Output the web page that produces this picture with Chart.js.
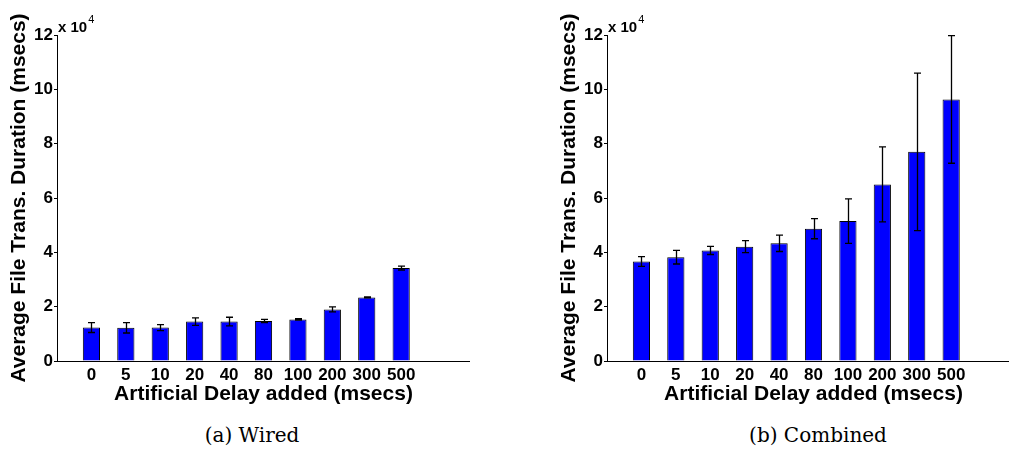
<!DOCTYPE html>
<html>
<head>
<meta charset="utf-8">
<script src="https://cdn.jsdelivr.net/npm/chart.js@4.4.1/dist/chart.umd.min.js"></script>
<style>
  body { margin: 0; width: 1009px; height: 449px; overflow: hidden; background: #fff; position: relative; }
  canvas { position: absolute; top: 0; }
  #wired { left: 0; }
  #combined { left: 550px; }
  .caption { position: absolute; top: 423px; font-family: "DejaVu Serif", serif; font-size: 20px; color: #000; transform: translateX(-50%); white-space: nowrap; }
</style>
</head>
<body>
<canvas id="wired" width="470" height="410"></canvas>
<canvas id="combined" width="470" height="410"></canvas>
<div class="caption" style="left:252px">(a) Wired</div>
<div class="caption" style="left:818px">(b) Combined</div>
<script>
// delay values on the x axis (msecs)
const delays = ['0', '5', '10', '20', '40', '80', '100', '200', '300', '500'];
// average file transfer duration (msecs) and error half-widths
const wiredMean = [12300, 12200, 12300, 14500, 14500, 14700, 15300, 19000, 23400, 34200];
const wiredErr = [1800, 1900, 1100, 1400, 1600, 600, 250, 900, 200, 700];
const combinedMean = [36600, 38200, 40700, 42100, 43300, 48700, 51500, 65000, 77000, 96300];
const combinedErr = [1800, 2500, 1500, 2200, 3000, 3700, 8200, 13800, 29000, 23500];

Chart.defaults.font.family = "'Liberation Sans', Arial, sans-serif";
Chart.defaults.font.weight = 'bold';
Chart.defaults.color = '#000';

const errorBars = {
    id: 'errorBars',
    afterDraw(chart, args, opts) {
        const {ctx, scales: {x, y}} = chart;
        ctx.save();
        ctx.strokeStyle = '#000';
        ctx.lineWidth = 1.3;
        opts.mean.forEach((m, i) => {
            const px = Math.round(x.getPixelForValue(i + 1)) + 0.5;
            const top = y.getPixelForValue(m + opts.err[i]);
            const bot = y.getPixelForValue(m - opts.err[i]);
            ctx.beginPath();
            ctx.moveTo(px, top); ctx.lineTo(px, bot);
            ctx.moveTo(px - 3.5, top); ctx.lineTo(px + 3.5, top);
            ctx.moveTo(px - 3.5, bot); ctx.lineTo(px + 3.5, bot);
            ctx.stroke();
        });
        ctx.restore();
    }
};

// the "x 10^4" exponent above the y axis
const exponent = {
    id: 'exponent',
    afterDraw(chart) {
        const {ctx, chartArea} = chart;
        ctx.save();
        ctx.fillStyle = '#000';
        ctx.textBaseline = 'alphabetic';
        ctx.font = "bold 15px 'Liberation Sans', Arial";
        const x0 = chartArea.left + 1;
        ctx.fillText('x 10', x0, chartArea.top - 3);
        const w = ctx.measureText('x 10').width;
        ctx.font = "11px 'Liberation Sans', Arial";
        ctx.fillText('4', x0 + w + 1, chartArea.top - 12);
        ctx.restore();
    }
};

function makeChart(id, mean, err) {
    return new Chart(document.getElementById(id), {
        type: 'bar',
        data: {
            datasets: [{
                data: mean.map((v, i) => ({x: i + 1, y: v})),
                backgroundColor: '#0000ff',
                borderColor: '#000',
                borderWidth: 1,
                barPercentage: 0.5,
                categoryPercentage: 1
            }]
        },
        options: {
            responsive: false,
            animation: false,
            layout: { padding: { top: 35, right: 0, left: 0, bottom: 0 } },
            plugins: {
                legend: { display: false },
                tooltip: { enabled: false },
                errorBars: { mean: mean, err: err }
            },
            scales: {
                x: {
                    type: 'linear',
                    min: 0,
                    max: 12,
                    offset: false,
                    grid: { display: false, drawTicks: false, offset: false },
                    border: { display: true, color: '#000', width: 1 },
                    afterBuildTicks: s => { s.ticks = delays.map((d, i) => ({value: i + 1})); },
                    afterFit: s => { s.height = 49; },
                    ticks: {
                        padding: 4,
                        maxRotation: 0,
                        autoSkip: false,
                        font: { size: 17, weight: 'bold' },
                        callback: v => delays[v - 1]
                    },
                    title: {
                        display: true,
                        text: 'Artificial Delay added (msecs)',
                        font: { size: 21, weight: 'bold' },
                        padding: { top: 0, bottom: 3 }
                    }
                },
                y: {
                    min: 0,
                    max: 120000,
                    grid: { drawOnChartArea: false, drawTicks: true, tickLength: 3, color: '#000' },
                    border: { color: '#000', width: 1 },
                    afterFit: s => { s.width = 57; },
                    ticks: {
                        stepSize: 20000,
                        padding: 1,
                        font: { size: 17, weight: 'bold' },
                        callback: v => v / 10000
                    },
                    title: {
                        display: true,
                        text: 'Average File Trans. Duration (msecs)',
                        font: { size: 21, weight: 'bold' },
                        padding: { top: 7, bottom: 0 }
                    }
                }
            }
        },
        plugins: [errorBars, exponent]
    });
}

makeChart('wired', wiredMean, wiredErr);
makeChart('combined', combinedMean, combinedErr);
</script>
</body>
</html>
